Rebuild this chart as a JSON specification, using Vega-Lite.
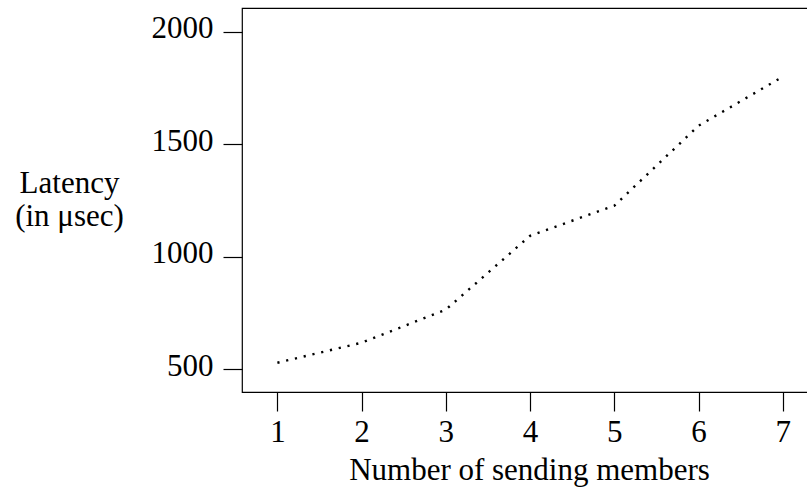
{
  "$schema": "https://vega.github.io/schema/vega-lite/v6.json",
  "autosize": {"type": "none"},
  "padding": {"left": 242, "top": 8, "right": 0, "bottom": 95},
  "width": 572,
  "height": 384,
  "background": "white",
  "config": {
    "view": {"stroke": "#000", "strokeWidth": 1.2},
    "font": "Liberation Serif"
  },
  "data": {
    "values": [
      {"members": 1, "latency": 529},
      {"members": 2, "latency": 618},
      {"members": 3, "latency": 765},
      {"members": 4, "latency": 1093},
      {"members": 5, "latency": 1227},
      {"members": 6, "latency": 1582},
      {"members": 7, "latency": 1800}
    ]
  },
  "mark": {"type": "line", "color": "#000", "strokeWidth": 2.4, "strokeDash": [2.2, 6.8], "strokeCap": "butt"},
  "encoding": {
    "x": {
      "field": "members",
      "type": "quantitative",
      "scale": {"domain": [0.58, 7.37], "nice": false, "zero": false},
      "axis": {
        "values": [1, 2, 3, 4, 5, 6, 7],
        "format": "d",
        "domain": false,
        "grid": false,
        "ticks": true,
        "tickSize": 19,
        "tickColor": "#000",
        "tickWidth": 1.2,
        "labelFont": "Liberation Serif",
        "labelFontSize": 31,
        "labelColor": "#000",
        "labelBaseline": "alphabetic",
        "labelPadding": 30,
        "labelFlush": false,
        "labelOverlap": false,
        "title": "Number of sending members",
        "titleFont": "Liberation Serif",
        "titleFontSize": 31,
        "titleFontWeight": "normal",
        "titleColor": "#000",
        "titleBaseline": "alphabetic",
        "titleAlign": "center",
        "titleX": 287,
        "titleY": 87
      }
    },
    "y": {
      "field": "latency",
      "type": "quantitative",
      "scale": {"domain": [399, 2105], "nice": false, "zero": false},
      "axis": {
        "values": [500, 1000, 1500, 2000],
        "format": "d",
        "domain": false,
        "grid": false,
        "tickSize": 19,
        "tickColor": "#000",
        "tickWidth": 1.2,
        "labelFont": "Liberation Serif",
        "labelFontSize": 31,
        "labelColor": "#000",
        "labelBaseline": "alphabetic",
        "labelOffset": 6,
        "labelPadding": 10,
        "labelFlush": false,
        "labelOverlap": false,
        "title": ["Latency", "(in μsec)"],
        "titleFont": "Liberation Serif",
        "titleFontSize": 31,
        "titleFontWeight": "normal",
        "titleColor": "#000",
        "titleAngle": 0,
        "titleAlign": "center",
        "titleBaseline": "alphabetic",
        "titleLineHeight": 33,
        "titleX": -173,
        "titleY": 184
      }
    }
  }
}
